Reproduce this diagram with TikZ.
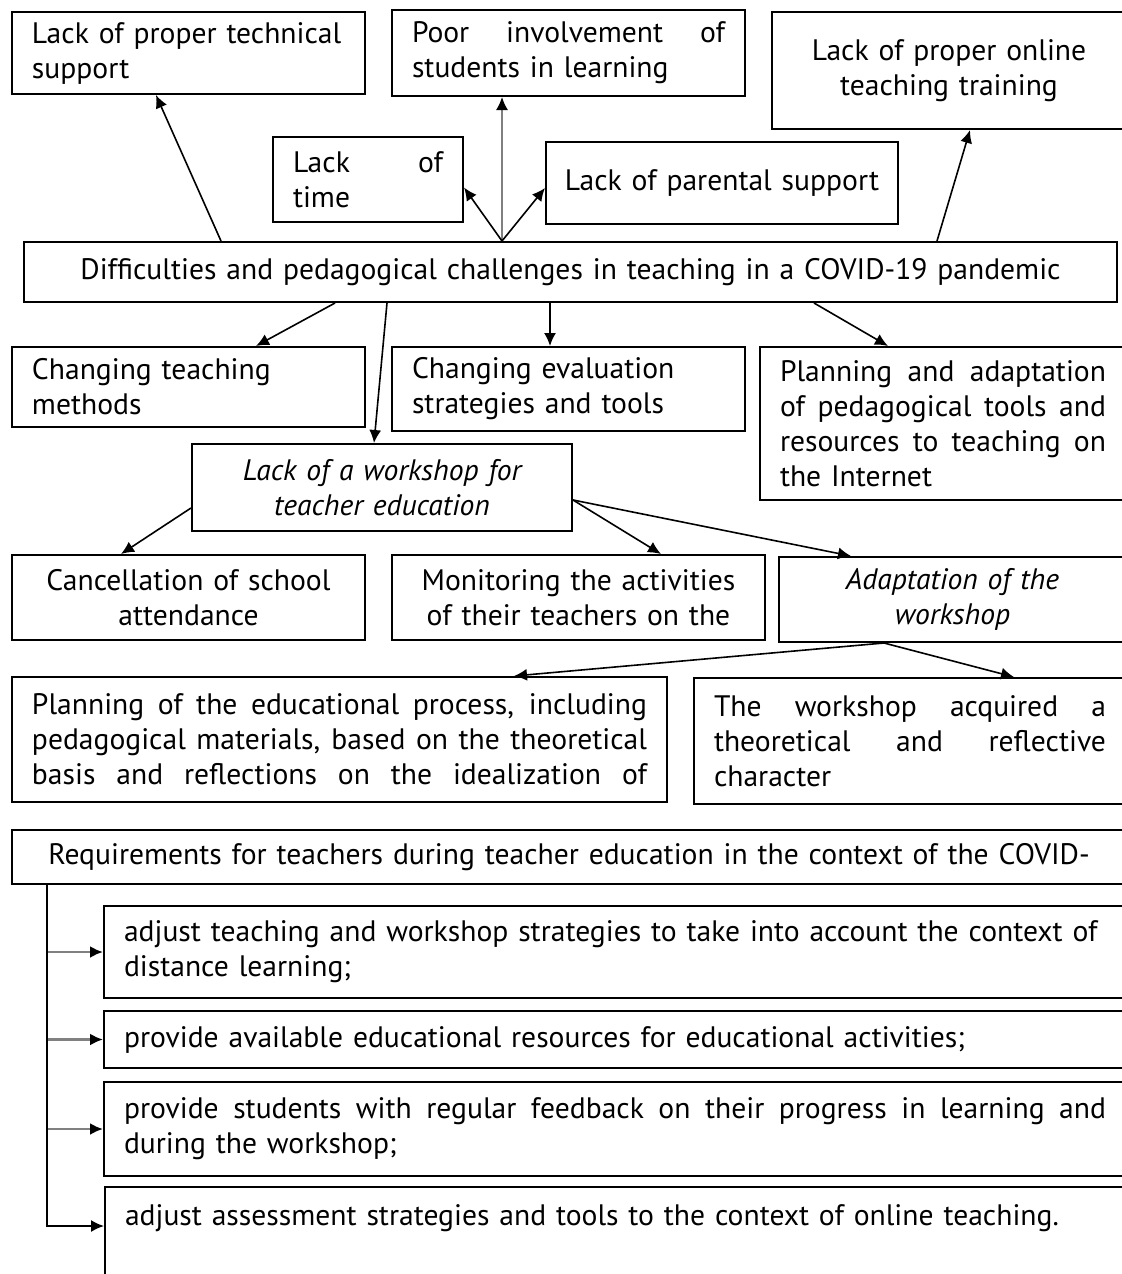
\documentclass[tikz,border=0pt]{standalone}
\usepackage{fontspec}
\setmainfont{PT Sans}
\usetikzlibrary{arrows.meta}
\newcommand{\jline}[1]{\makebox[\hsize][s]{\spaceskip=\fontdimen2\font plus 1fil\relax #1}}

\begin{document}
\begin{tikzpicture}[x=0.5pt, y=-0.5pt,
  cell/.style={draw, line width=1pt, inner xsep=10pt, inner ysep=0pt,
    font=\fontsize{14.8pt}{17.5pt}\selectfont, align=left},
  slant/.style={cell, align=center, font=\fontsize{14.8pt}{17.5pt}\selectfont\itshape},
  link/.style={-{Latex[length=6.5pt,width=6pt]}, line width=0.8pt},
  faint/.style={link, draw=black!50, -{Latex[length=6.5pt,width=6pt,color=black]}}]
  \useasboundingbox (0,0) rectangle (1122,1274);

  % problems on top
  \node[cell, text width=156.5pt, minimum height=41pt] (tech) at (188.5,53) {Lack of proper technical\\support};
  \node[cell, text width=156.5pt, minimum height=43pt] (poor) at (568.5,53) {\jline{Poor involvement of}\\students in learning};
  \node[cell, align=center, text width=157pt, minimum height=58.5pt] (online) at (949,70.5) {Lack of proper online\\teaching training};
  \node[cell, text width=75pt, minimum height=42.5pt] (time) at (368,179.5) {\jline{Lack of}\\time};
  \node[cell, align=center, inner xsep=6pt, text width=164pt, minimum height=41pt] (parent) at (722,183) {\mbox{Lack of parental support}};

  % central box
  \node[cell, align=center, text width=526.5pt, minimum height=30pt] (main) at (570.5,272) {Difficulties and pedagogical challenges in teaching in a COVID-19 pandemic};

  % consequences
  \node[cell, text width=156.5pt, minimum height=40pt] (chteach) at (188.5,387) {Changing teaching\\methods};
  \node[cell, text width=156.5pt, minimum height=42pt] (cheval) at (568.5,389) {Changing evaluation\\strategies and tools};
  \node[cell, text width=163pt, minimum height=76.5pt] (planadapt) at (943,423.5) {\jline{Planning and adaptation}\\\jline{of pedagogical tools and}\\\jline{resources to teaching on}\\the Internet};
  \node[slant, text width=170pt, minimum height=43.5pt] (lackws) at (382,487.5) {Lack of a workshop for\\teacher education};
  \node[cell, align=center, text width=156.5pt, minimum height=42.5pt] (cancel) at (188.5,597.5) {Cancellation of school\\attendance};
  \node[cell, align=center, text width=166.5pt, minimum height=42.5pt] (monitor) at (578.5,597.5) {Monitoring the activities\\of their teachers on the};
  \node[slant, text width=153.5pt, minimum height=42.5pt] (adapt) at (952.5,599.5) {Adaptation of the\\workshop};
  \node[cell, text width=307.5pt, minimum height=62.5pt] (planedu) at (339.5,739.5) {\jline{Planning of the educational process, including}\\\jline{pedagogical materials, based on the theoretical}\\\jline{basis and reflections on the idealization of}};
  \node[cell, text width=196pt, minimum height=63pt] (acquired) at (910,741) {\jline{The workshop acquired a}\\\jline{theoretical and reflective}\\character};

  % arrows up
  \coordinate (hub) at ([shift={(479,0)}]main.north west);
  \draw[link] ([shift={(198,0)}]main.north west) -- ([shift={(145,0)}]tech.south west);
  \draw[faint] (hub) -- (hub |- poor.south);
  \draw[link] (hub) -- ([shift={(0,8)}]time.east);
  \draw[link] (hub) -- ([shift={(0,5)}]parent.west);
  \draw[link] ([shift={(914,0)}]main.north west) -- ([shift={(199,0)}]online.south west);

  % arrows down
  \draw[link] ([shift={(312,0)}]main.south west) -- ([shift={(245,0)}]chteach.north west);
  \draw[link] ([shift={(364,0)}]main.south west) -- ([shift={(183,0)}]lackws.north west);
  \draw[link] ([shift={(527,0)}]main.south west) -- ([shift={(159,0)}]cheval.north west);
  \draw[link] ([shift={(791,0)}]main.south west) -- ([shift={(129,0)}]planadapt.north west);
  \draw[link] ([shift={(0,20.5)}]lackws.west) -- ([shift={(110,0)}]cancel.north west);
  \coordinate (fork) at ([shift={(0,12.5)}]lackws.east);
  \draw[link] (fork) -- ([shift={(270,0)}]monitor.north west);
  \draw[link] (fork) -- ([shift={(73,0)}]adapt.north west);
  \coordinate (split) at ([shift={(106,0)}]adapt.south west);
  \draw[link] (split) -- ([shift={(503,0)}]planedu.north west);
  \draw[link] (split) -- ([shift={(321,0)}]acquired.north west);

  % requirements list
  \node[cell, align=center, text width=537pt, minimum height=27pt] (req) at (569,857) {Requirements for teachers during teacher education in the context of the COVID-};
  \node[cell, text width=491pt, minimum height=46pt] (sub1) at (615,952) {adjust teaching and workshop strategies to take into account the context of\\distance learning;};
  \node[cell, text width=491pt, minimum height=28.5pt] (sub2) at (615,1039.5) {provide available educational resources for educational activities;};
  \node[cell, text width=491pt, minimum height=47pt] (sub3) at (615,1129) {\jline{provide students with regular feedback on their progress in learning and}\\during the workshop;};
  \node[cell, text width=491pt, anchor=north west, inner ysep=9pt, text depth=60pt] (sub4) at (104,1186) {adjust assessment strategies and tools to the context of online teaching.};

  \coordinate (bus) at ([shift={(36,0)}]req.south west);
  \foreach \s in {sub1,sub2,sub3}
    \draw[faint, line width=1.2pt] (bus |- \s.west) -- (\s.west);
  \draw[link] (bus) |- ([shift={(0,40)}]sub4.north west);
\end{tikzpicture}
\end{document}
